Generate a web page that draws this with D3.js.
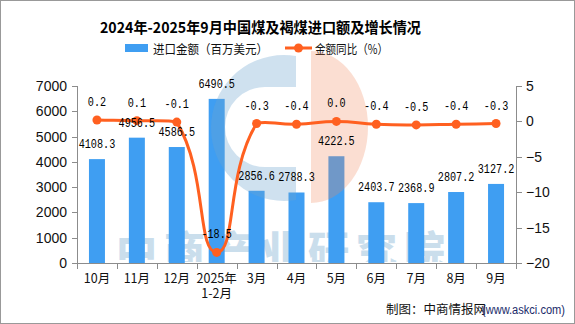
<!DOCTYPE html>
<html><head><meta charset="utf-8">
<script src="https://cdn.jsdelivr.net/npm/d3@7/dist/d3.min.js"></script>
<style>body{margin:0;background:#fff}svg{display:block}</style>
</head><body>
<svg id="c" width="575" height="324"></svg>
<script>
const categories = ["10月","11月","12月","2025年\n1-2月","3月","4月","5月","6月","7月","8月","9月"];
const importValue = [4108.3,4956.5,4586.5,6490.5,2856.6,2788.3,4222.5,2403.7,2368.9,2807.2,3127.2];
const yoyChange = [0.2,0.1,-0.1,-18.5,-0.3,-0.4,0.0,-0.4,-0.5,-0.4,-0.3];
const leftTicks = [0,1000,2000,3000,4000,5000,6000,7000];
const rightTicks = [-20,-15,-10,-5,0,5];
const title = "2024年-2025年9月中国煤及褐煤进口额及增长情况";
const legendBar = "进口金额（百万美元）";
const legendLine = "金额同比（%）";
const source = "制图：中商情报网";
const sourceUrl = "(www.askci.com)";

const svg = d3.select("#c");
const L = 77, R = 516, T = 86, B = 263;
const barColor = "#3f9ef2", lineColor = "#ff6020", axisColor = "#8c8c8c";
const x = d3.scaleBand().domain(categories).range([L, R]).padding(0);
const yL = d3.scaleLinear().domain([0, 7000]).range([B, T]);
const yR = d3.scaleLinear().domain([-20, 5]).range([B, T]);
const cx = c => x(c) + x.bandwidth() / 2;
const mono = "'Liberation Mono','DejaVu Sans Mono',monospace";
const cjk = "'Noto Sans CJK SC','Noto Sans',sans-serif";

// border
svg.append("rect").attr("x",0.5).attr("y",0.5).attr("width",574).attr("height",323)
  .attr("fill","#fff").attr("stroke","#999");

const defs = svg.append("defs");
defs.append("clipPath").attr("id","cclip").append("rect").attr("x",150).attr("y",40).attr("width",146).attr("height",200);
defs.append("clipPath").attr("id","tclip").append("rect").attr("x",80).attr("y",200).attr("width",420).attr("height",62);

// watermark text (behind bars, clipped at the axis)
svg.append("text").attr("clip-path","url(#tclip)").attr("x",116).attr("y",266).attr("font-family",cjk).attr("font-weight",900)
  .attr("font-size",41).attr("letter-spacing",7)
  .attr("fill","rgb(110,165,205)").attr("opacity",0.36).text("中商产业研究院");

// title
svg.append("text").attr("x",260.5).attr("y",33).attr("text-anchor","middle")
  .attr("font-family",cjk).attr("font-weight","bold").attr("font-size",15)
  .attr("textLength",321).attr("lengthAdjust","spacingAndGlyphs").attr("fill","#000").text(title);

// legend
svg.append("rect").attr("x",125).attr("y",44).attr("width",23).attr("height",8).attr("fill",barColor);
svg.append("text").attr("x",153).attr("y",53.5).attr("font-family",cjk).attr("font-size",12.5)
  .attr("textLength",115).attr("lengthAdjust","spacingAndGlyphs").attr("fill","#111").text(legendBar);
svg.append("line").attr("x1",285).attr("x2",312).attr("y1",48).attr("y2",48).attr("stroke",lineColor).attr("stroke-width",3);
svg.append("circle").attr("cx",298.5).attr("cy",48).attr("r",4.5).attr("fill",lineColor);
svg.append("text").attr("x",315).attr("y",53.5).attr("font-family",cjk).attr("font-size",12.5)
  .attr("textLength",73).attr("lengthAdjust","spacingAndGlyphs").attr("fill","#111").text(legendLine);

// bars
svg.append("g").selectAll("rect").data(importValue).join("rect")
  .attr("x",(d,i)=>cx(categories[i]) - 8).attr("width",16)
  .attr("y",d=>yL(d)).attr("height",d=>B - yL(d)).attr("fill",barColor);

// watermark logo (over bars, translucent)
const wm = svg.append("g");
wm.append("path").attr("clip-path","url(#cclip)").attr("fill-rule","evenodd")
  .attr("d","M211,128 A73 73 0 1 0 357,128 A73 73 0 1 0 211,128 Z M300,87 L265,87 A40 40 0 0 0 265,167 L300,167 Z")
  .attr("fill","rgb(110,165,205)").attr("opacity",0.33);
wm.append("path").attr("d","M311,51 A57 76 0 0 1 311,203 Z").attr("fill","rgb(240,135,95)").attr("opacity",0.28);

// axes
const g = svg.append("g").attr("stroke",axisColor).attr("stroke-width",1);
g.append("line").attr("x1",L+0.5).attr("x2",L+0.5).attr("y1",T).attr("y2",B);
g.append("line").attr("x1",R+0.5).attr("x2",R+0.5).attr("y1",T).attr("y2",B);
g.append("line").attr("x1",L).attr("x2",R+1).attr("y1",B+0.5).attr("y2",B+0.5);
leftTicks.forEach(t=>{ g.append("line").attr("x1",L-5).attr("x2",L).attr("y1",Math.round(yL(t))+0.5).attr("y2",Math.round(yL(t))+0.5); });
rightTicks.forEach(t=>{ g.append("line").attr("x1",R).attr("x2",R+6).attr("y1",Math.round(yR(t))+0.5).attr("y2",Math.round(yR(t))+0.5); });
categories.forEach(c=>{ g.append("line").attr("x1",Math.round(x(c))+0.5).attr("x2",Math.round(x(c))+0.5).attr("y1",B).attr("y2",B+6); });
g.append("line").attr("x1",R+0.5).attr("x2",R+0.5).attr("y1",B).attr("y2",B+6);

svg.append("g").selectAll("text").data(leftTicks).join("text")
  .attr("x",L-10).attr("y",d=>yL(d)+5).attr("text-anchor","end")
  .attr("font-family","'Liberation Sans',Arial,sans-serif").attr("font-size",14).attr("fill","#111").text(d=>d);
svg.append("g").selectAll("text").data(rightTicks).join("text")
  .attr("x",R+10).attr("y",d=>yR(d)+5)
  .attr("font-family","'Liberation Sans',Arial,sans-serif").attr("font-size",14).attr("fill","#111")
  .text(d=>d<0?"\u2212"+Math.abs(d):d);

// x labels
categories.forEach(c=>{
  c.split("\n").forEach((s,k)=>{
    svg.append("text").attr("x",cx(c)).attr("y",283+k*15).attr("text-anchor","middle")
      .attr("font-family",cjk).attr("font-size",12.5).attr("fill","#111").text(s);
  });
});

// line (ECharts-style smoothing with bounding-box constraint)
const pts = yoyChange.map((v,i)=>[cx(categories[i]), yR(v)]);
function smoothPath(p, s) {
  const minX = d3.min(p,d=>d[0]), maxX = d3.max(p,d=>d[0]);
  const minY = d3.min(p,d=>d[1]), maxY = d3.max(p,d=>d[1]);
  const clamp = q => [Math.max(minX,Math.min(maxX,q[0])), Math.max(minY,Math.min(maxY,q[1]))];
  const cps = p.map((pt,i)=>{
    const prev = i>0 ? p[i-1] : pt, next = i<p.length-1 ? p[i+1] : pt;
    const v = [(next[0]-prev[0])*s, (next[1]-prev[1])*s];
    const lp = Math.hypot(pt[0]-prev[0], pt[1]-prev[1]);
    const ln = Math.hypot(next[0]-pt[0], next[1]-pt[1]);
    const rn = (lp+ln) ? ln/(lp+ln) : 0.5;
    return { c0: clamp([pt[0]-v[0]*(1-rn), pt[1]-v[1]*(1-rn)]), c1: clamp([pt[0]+v[0]*rn, pt[1]+v[1]*rn]) };
  });
  let d = `M${p[0][0]},${p[0][1]}`;
  for (let i=1;i<p.length;i++) {
    const a = cps[i-1].c1, b = cps[i].c0;
    d += `C${a[0]},${a[1]} ${b[0]},${b[1]} ${p[i][0]},${p[i][1]}`;
  }
  return d;
}
svg.append("path").attr("d",smoothPath(pts,0.5))
  .attr("fill","none").attr("stroke",lineColor).attr("stroke-width",3);
svg.append("g").selectAll("circle").data(pts).join("circle")
  .attr("cx",d=>d[0]).attr("cy",d=>d[1]).attr("r",4.5).attr("fill",lineColor);

// labels
const lab = (xx,yy,s)=>svg.append("text").attr("x",xx).attr("y",yy).attr("text-anchor","middle")
  .attr("font-family",mono).attr("font-size",12).attr("textLength",s.length*6.1)
  .attr("lengthAdjust","spacingAndGlyphs").attr("fill","#000").text(s);
importValue.forEach((v,i)=>lab(cx(categories[i]), yL(v)-11, v.toFixed(1)));
yoyChange.forEach((v,i)=>lab(cx(categories[i]), yR(v)-14, v.toFixed(1)));

// source
svg.append("text").attr("x",386).attr("y",313.5).attr("font-family",cjk).attr("font-size",12.5)
  .attr("fill","#111").text(source);
svg.append("text").attr("x",482).attr("y",313.5).attr("font-family","'Liberation Sans',Arial,sans-serif").attr("font-size",12)
  .attr("textLength",83).attr("lengthAdjust","spacingAndGlyphs").attr("fill","#1a2a6a").text(sourceUrl);
</script>
</body></html>
